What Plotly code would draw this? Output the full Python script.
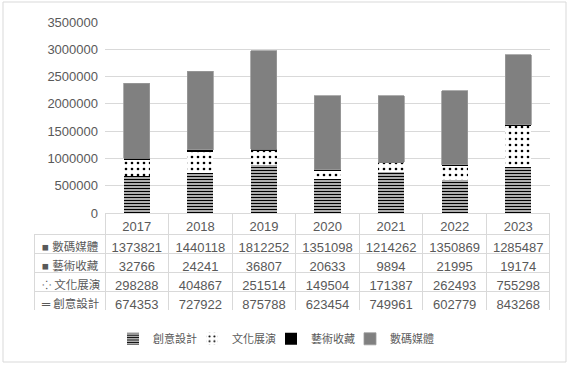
import plotly.graph_objects as go

years = ["2017", "2018", "2019", "2020", "2021", "2022", "2023"]
creative_design = [674353, 727922, 875788, 623454, 749961, 602779, 843268]   # 創意設計
culture_show = [298288, 404867, 251514, 149504, 171387, 262493, 755298]      # 文化展演
art_collection = [32766, 24241, 36807, 20633, 9894, 21995, 19174]            # 藝術收藏
digital_media = [1373821, 1440118, 1812252, 1351098, 1214262, 1350869, 1285487]  # 數碼媒體
series_names = ["創意設計", "文化展演", "藝術收藏", "數碼媒體"]
row_icons = ["═", "⁘", "■", "■"]
y_ticks = [0, 500000, 1000000, 1500000, 2000000, 2500000, 3000000, 3500000]

FONT = "Liberation Sans, Arial, Noto Sans CJK TC, sans-serif"
TXT = "#595959"
GRID = "#d9d9d9"

W, H = 573, 367
L, R, T, B = 34, 23, 22, 57
plot_w = W - L - R
plot_h = H - T - B
x_dom0 = (105 - L) / plot_w
y_dom0 = (H - B - 213) / plot_h

fig = go.Figure()

fig.add_bar(x=years, y=creative_design, name=series_names[0], legendwidth=34,
            marker=dict(color="white",
                        pattern=dict(shape="-", fgcolor="black", bgcolor="white",
                                     size=3, solidity=0.55, fillmode="replace"),
                        line=dict(width=0)))
fig.add_bar(x=years, y=culture_show, name=series_names[1], legendwidth=34,
            marker=dict(color="white",
                        pattern=dict(shape=".", fgcolor="black", bgcolor="white",
                                     size=6, solidity=0.15, fillmode="replace"),
                        line=dict(width=0)))
fig.add_bar(x=years, y=art_collection, name=series_names[2], legendwidth=34,
            marker=dict(color="black", line=dict(width=0)))
fig.add_bar(x=years, y=digital_media, name=series_names[3], legendwidth=50,
            marker=dict(color="#808080", line=dict(width=0.8, color="#9a9a9a")))

# data table (rows listed top to bottom = reverse stacking order)
order = [3, 2, 1, 0]
row_labels = [row_icons[k] + "\u00a0" + series_names[k] for k in order]
cols = [row_labels]
for i in range(len(years)):
    cols.append([str(digital_media[i]), str(art_collection[i]),
                 str(culture_show[i]), str(creative_design[i])])

colw = [105 - L] + [(550 - 105) / 7] * 7
fig.add_trace(go.Table(
    domain=dict(x=[0, 1], y=[0, y_dom0]),
    columnwidth=colw,
    header=dict(values=[""] + years, height=21,
                fill_color=["rgba(0,0,0,0)"] + ["white"] * 7,
                line=dict(color=["rgba(0,0,0,0)"] + [GRID] * 7, width=1),
                font=dict(family=FONT, size=13, color=TXT),
                align="center"),
    cells=dict(values=cols, height=19,
               fill_color="white",
               line=dict(color=GRID, width=1),
               font=dict(family=FONT, size=[11.5] + [13] * 7, color=TXT),
               align=["left"] + ["center"] * 7),
))

fig.update_layout(
    width=W, height=H,
    margin=dict(l=L, r=R, t=T, b=B, autoexpand=False),
    barmode="stack",
    bargap=0.59,
    plot_bgcolor="white",
    paper_bgcolor="white",
    font=dict(family=FONT, size=13, color=TXT),
    showlegend=True,
    legend=dict(orientation="h", x=(113 - L) / plot_w, xanchor="left",
                y=-0.1, yanchor="middle",
                font=dict(size=11, color=TXT), traceorder="normal",
                itemwidth=30),
    xaxis=dict(domain=[x_dom0, 1], showticklabels=False, showgrid=False,
               zeroline=False, showline=False, ticks="", range=[-0.5, 6.5]),
    yaxis=dict(domain=[y_dom0, 1], range=[0, 3500000], tickvals=y_ticks,
               ticktext=[str(v) for v in y_ticks],
               showgrid=True, gridcolor=GRID, gridwidth=1, zeroline=False,
               showline=False, ticks="", ticklabelstandoff=6,
               tickfont=dict(size=13, color=TXT)),
    shapes=[dict(type="rect", xref="paper", yref="paper",
                 x0=(3 - L) / plot_w, x1=(566 - L) / plot_w,
                 y0=(H - B - 362) / plot_h, y1=(H - B - 2) / plot_h,
                 line=dict(color="#d9d9d9", width=1), fillcolor="rgba(0,0,0,0)",
                 layer="below")],
)

fig.write_html("out.html", config={"displayModeBar": False},
               post_script="document.body.style.margin='0';document.body.style.overflow='hidden';")
